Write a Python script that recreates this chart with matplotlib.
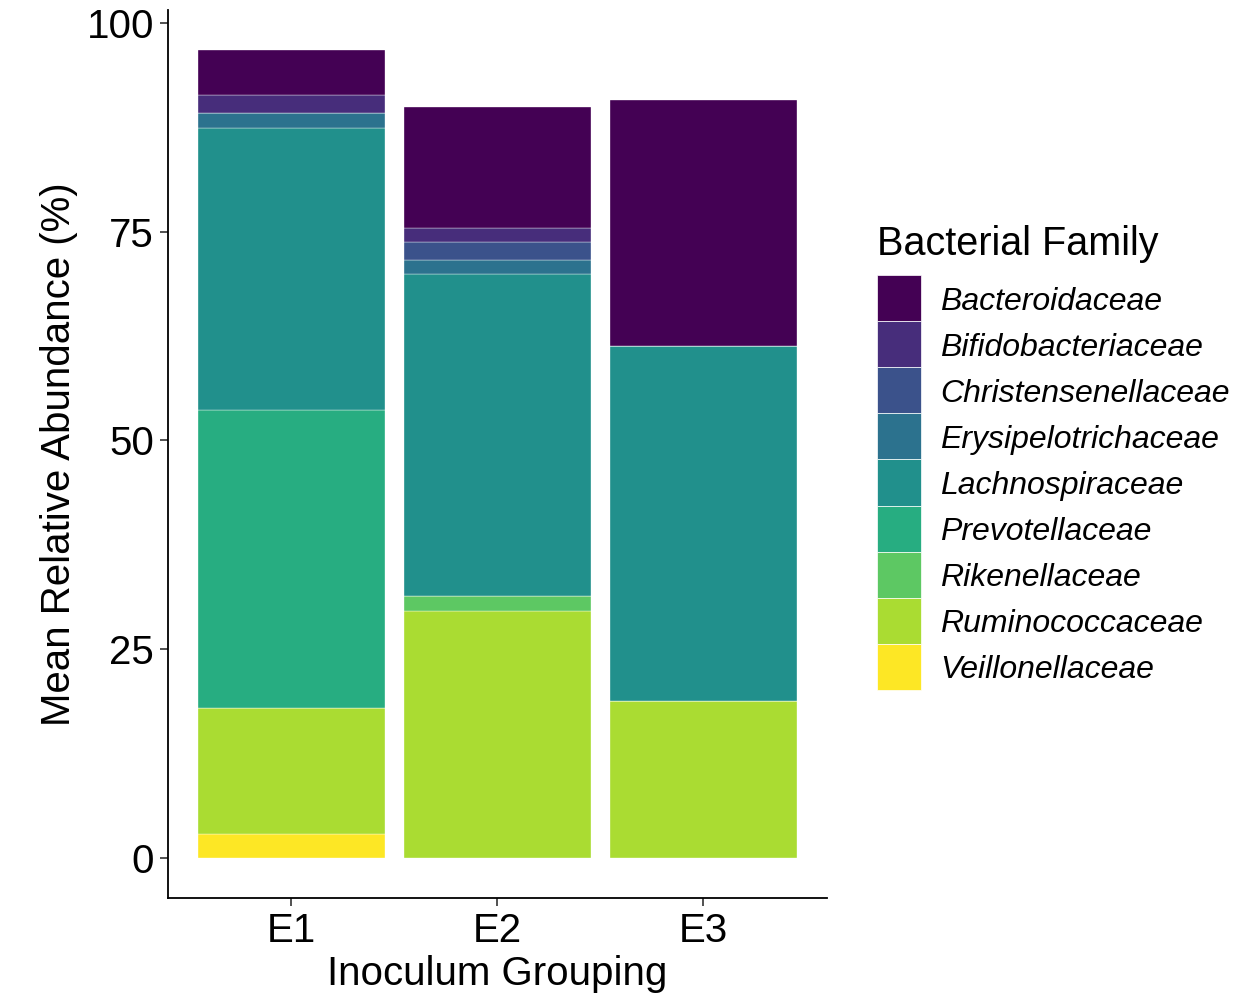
import matplotlib

matplotlib.use("Agg")
import matplotlib.pyplot as plt
from matplotlib.patches import Rectangle
import numpy as np

plt.rcParams["font.family"] = ["Liberation Sans", "DejaVu Sans"]

groups = ["E1", "E2", "E3"]
families = [
    "Bacteroidaceae",
    "Bifidobacteriaceae",
    "Christensenellaceae",
    "Erysipelotrichaceae",
    "Lachnospiraceae",
    "Prevotellaceae",
    "Rikenellaceae",
    "Ruminococcaceae",
    "Veillonellaceae",
]
colors = ["#440154", "#472D7B", "#3B528B", "#2C728E", "#21908C",
          "#27AD81", "#5DC863", "#AADC32", "#FDE725"]

# mean relative abundance (%) per family, columns E1, E2, E3
bacteroidaceae = [5.35, 14.53, 29.46]
bifidobacteriaceae = [2.12, 1.64, 0.0]
christensenellaceae = [0.0, 2.24, 0.0]
erysipelotrichaceae = [1.87, 1.63, 0.0]
lachnospiraceae = [33.74, 38.56, 42.60]
prevotellaceae = [35.81, 0.0, 0.0]
rikenellaceae = [0.0, 1.88, 0.0]
ruminococcaceae = [15.05, 29.50, 18.72]
veillonellaceae = [2.83, 0.0, 0.0]

values = [bacteroidaceae, bifidobacteriaceae, christensenellaceae,
          erysipelotrichaceae, lachnospiraceae, prevotellaceae,
          rikenellaceae, ruminococcaceae, veillonellaceae]

W, H = 1236, 999
fig = plt.figure(figsize=(W / 100, H / 100), dpi=100)
ax = fig.add_axes([0.1359, 0.1011, 0.533, 0.889])

x = np.arange(1, len(groups) + 1)
bottom = np.zeros(len(groups))
# stack from the bottom of the legend upwards
for fam, col, vals in reversed(list(zip(families, colors, values))):
    v = np.array(vals)
    ax.bar(x, v, width=0.91, bottom=bottom, color=col,
           edgecolor="white", linewidth=0.25, label=fam)
    bottom += v

ax.set_xlim(0.4, 3.6)
ax.set_ylim(-4.84, 101.6)
ax.set_xticks(x)
ax.set_xticklabels(groups)
ax.set_yticks([0, 25, 50, 75, 100])
ax.tick_params(labelsize=29, length=6, width=1.2, color="#333333", pad=4)
for side in ("top", "right"):
    ax.spines[side].set_visible(False)
for side in ("left", "bottom"):
    ax.spines[side].set_linewidth(1.3)

ax.set_xlabel("Inoculum Grouping", fontsize=29, labelpad=4)
ax.set_ylabel("Mean Relative Abundance (%)", fontsize=29, labelpad=6)

# legend drawn by hand in figure pixels (ggplot-style stacked keys)
key_x, key_y, key_w, key_h = 877, 275, 44, 46.1
fig.text(key_x / W, 1 - 255 / H, "Bacterial Family", fontsize=28.5,
         ha="left", va="baseline")
for i, (fam, col) in enumerate(zip(families, colors)):
    top = key_y + i * key_h
    fig.add_artist(Rectangle((key_x / W, 1 - (top + key_h) / H), key_w / W, key_h / H,
                             transform=fig.transFigure, facecolor=col,
                             edgecolor="white", linewidth=0.5))
    fig.text(940 / W, 1 - (top + key_h / 2) / H, fam, fontsize=23,
             style="italic", ha="left", va="center_baseline")

fig.savefig("out.png", dpi=100)
